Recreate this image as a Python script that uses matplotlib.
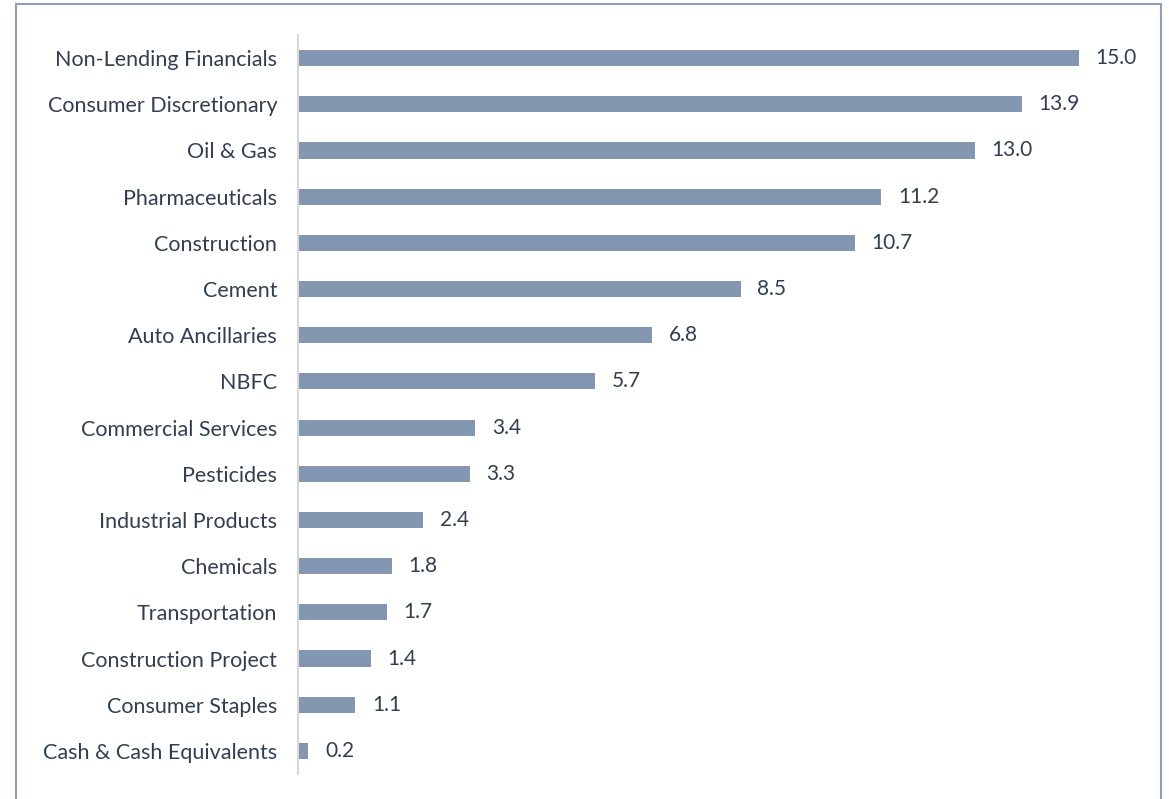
import matplotlib
matplotlib.use("Agg")
import matplotlib.pyplot as plt
from matplotlib.patches import Rectangle

categories = ["Non-Lending Financials", "Consumer Discretionary", "Oil & Gas",
              "Pharmaceuticals", "Construction", "Cement", "Auto Ancillaries",
              "NBFC", "Commercial Services", "Pesticides", "Industrial Products",
              "Chemicals", "Transportation", "Construction Project",
              "Consumer Staples", "Cash & Cash Equivalents"]
values = [15.0, 13.9, 13.0, 11.2, 10.7, 8.5, 6.8, 5.7, 3.4, 3.3, 2.4, 1.8, 1.7, 1.4, 1.1, 0.2]

plt.rcParams['font.family'] = ['Lato', 'DejaVu Sans']
text_color = '#333f50'
bar_color = '#8497b0'

W, H = 1169, 799
fig = plt.figure(figsize=(W / 100, H / 100), dpi=100)
ax = fig.add_axes([298 / W, 1 - 774 / H, (1131 - 298) / W, (774 - 35) / H])

y = list(range(len(categories)))
ax.barh(y, values, height=0.35, color=bar_color)
ax.set_ylim(len(categories) - 0.5, -0.5)
ax.set_xlim(0, 16)
ax.set_yticks(y)
ax.set_yticklabels(categories, fontsize=15.5, color=text_color)
ax.tick_params(axis='y', length=0, pad=15)
ax.set_xticks([])
for s in ['top', 'right', 'bottom']:
    ax.spines[s].set_visible(False)
ax.spines['left'].set_color('#d9d9d9')
ax.spines['left'].set_linewidth(1.5)

for yi, v in zip(y, values):
    ax.annotate(f"{v:.1f}", xy=(v, yi), xytext=(12, 0), textcoords='offset points',
                va='center', ha='left', fontsize=15, color=text_color)

border = Rectangle((16 / W, -0.05), (1161 - 16) / W, 1 - 4 / H + 0.05,
                   transform=fig.transFigure, fill=False, edgecolor='#8ea0b8',
                   linewidth=1.5, clip_on=False)
fig.patches.append(border)

fig.savefig("out.png", dpi=100)
